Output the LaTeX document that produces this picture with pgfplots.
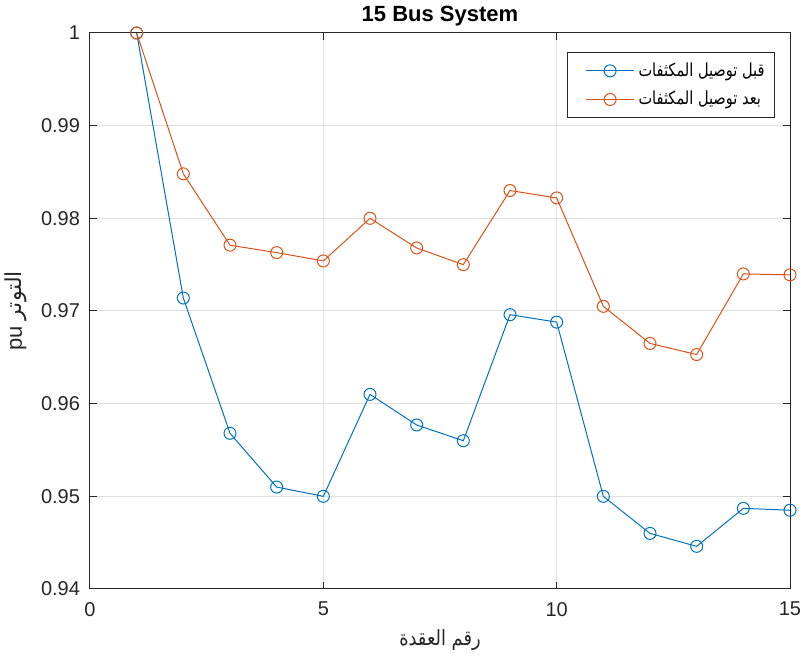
\documentclass[border=0pt]{standalone}
\usepackage{fontspec}
\usepackage{graphicx}
\setmainfont{Liberation Sans}
\newfontfamily\arabicfont[Script=Arabic]{DejaVu Sans}
\TeXXeTstate=1
\usepackage{pgfplots}
\pgfplotsset{compat=1.18}
\definecolor{mblue}{rgb}{0,0.447,0.741}
\definecolor{morange}{rgb}{0.85,0.325,0.098}
\definecolor{axgray}{rgb}{0.15,0.15,0.15}
\definecolor{gridgray}{rgb}{0.875,0.875,0.875}
\begin{document}
\begin{tikzpicture}
\begin{axis}[
  scale only axis,
  width=350pt, height=278pt,
  xmin=0, xmax=15, ymin=0.94, ymax=1,
  xtick={0,5,10,15},
  ytick={0.94,0.95,0.96,0.97,0.98,0.99,1},
  yticklabels={0.94,0.95,0.96,0.97,0.98,0.99,1},
  /pgf/number format/assume math mode=true,
  tick align=inside,
  major tick length=3.5pt,
  tick style={axgray, line width=0.5pt},
  axis line style={axgray, line width=0.5pt},
  grid=major,
  major grid style={gridgray, line width=0.5pt},
  ticklabel style={font=\fontsize{10}{12}\selectfont, text=axgray},
  xticklabel style={yshift=-3pt},
  yticklabel style={xshift=-1.5pt},
  title={\bfseries 15 Bus System},
  title style={font=\fontsize{11}{13}\selectfont, yshift=-6pt},
  xlabel={\scalebox{0.85}[1]{\arabicfont\beginR رقم العقدة\endR}},
  xlabel style={font=\fontsize{10.5}{13}\selectfont, text=axgray},
  ylabel={pu {\arabicfont\beginR التوتر\endR}},
  ylabel style={font=\fontsize{11}{13}\selectfont, text=axgray},
  legend style={at={(rel axis cs:0.9786,0.9658)}, anchor=north east,
    draw=axgray, line width=0.5pt, font=\fontsize{9}{11}\selectfont,
    cells={anchor=west}, row sep=2pt, inner sep=3pt},
  legend cell align=left,
  legend image code/.code={\path (-0.22cm,0cm); \draw[mark repeat=2,mark phase=2] plot coordinates {(0cm,0cm)(0.42cm,0cm)(0.84cm,0cm)};},
]
\addplot[mblue, line width=0.5pt, mark=o, mark size=3pt] coordinates {
(1,1.0000) (2,0.9714) (3,0.9568) (4,0.9510) (5,0.9500) (6,0.9610) (7,0.9577) (8,0.9560)
(9,0.9696) (10,0.9688) (11,0.9500) (12,0.9460) (13,0.9446) (14,0.9487) (15,0.9485)};
\addlegendentry{\scalebox{0.81}[1]{\arabicfont\beginR قبل توصيل المكثفات\endR}}
\addplot[morange, line width=0.5pt, mark=o, mark size=3pt] coordinates {
(1,1.0000) (2,0.9848) (3,0.9771) (4,0.9763) (5,0.9754) (6,0.9800) (7,0.9768) (8,0.9750)
(9,0.9830) (10,0.9822) (11,0.9705) (12,0.9665) (13,0.9653) (14,0.9740) (15,0.9739)};
\addlegendentry{\scalebox{0.81}[1]{\arabicfont\beginR بعد توصيل المكثفات\endR}}
\end{axis}
\pgfresetboundingbox
\useasboundingbox (-45pt,-36.5pt) rectangle (357.5pt,294.5pt);
\end{tikzpicture}
\end{document}
